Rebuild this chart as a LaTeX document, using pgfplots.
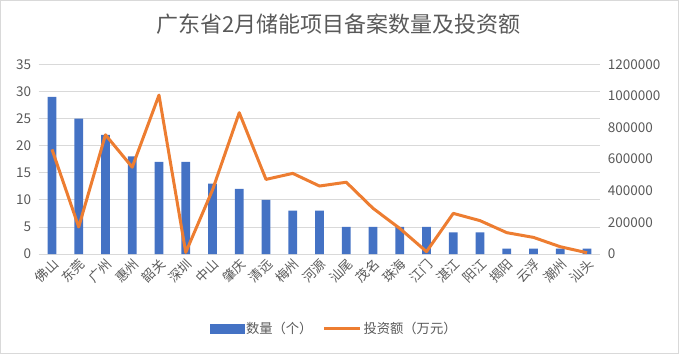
\documentclass[border=0pt]{standalone}
\usepackage{pgfplots}
\pgfplotsset{compat=1.18}
\usepackage{fontspec}
\setmainfont{Noto Sans CJK SC}
\definecolor{barblue}{HTML}{4472C4}
\definecolor{lineorange}{HTML}{ED7D31}
\definecolor{txtgray}{HTML}{595959}
\definecolor{gridgray}{HTML}{D9D9D9}
\begin{document}
\begin{tikzpicture}
\draw[gridgray, line width=1pt] (0.5pt,0.5pt) rectangle (678.5pt,353.5pt);
\node[text=txtgray, font=\fontsize{22}{26}\selectfont] at (338.5pt,330pt) {广东省2月储能项目备案数量及投资额};
\begin{axis}[
  at={(38.6pt,100pt)}, anchor=south west,
  scale only axis, width=561.8pt, height=189.7pt,
  xmin=-0.5, xmax=20.5, ymin=0, ymax=35,
  xtick={0,...,20},
  xticklabels={佛山,东莞,广州,惠州,韶关,深圳,中山,肇庆,清远,梅州,河源,汕尾,茂名,珠海,江门,湛江,阳江,揭阳,云浮,潮州,汕头},
  x tick label style={rotate=45, anchor=east, font=\fontsize{13}{15}\selectfont, text=txtgray, yshift=-8pt, xshift=1pt},
  ytick={0,5,...,35},
  y tick label style={font=\fontsize{13.5}{15}\selectfont, text=txtgray, xshift=-4pt},
  /pgf/number format/assume math mode=true,
  ymajorgrids, grid style={gridgray, line width=0.8pt},
  axis line style={draw=none},
  tick style={draw=none},
  legend style={at={(axis description cs:0.526,-0.395)}, anchor=center, draw=none, fill=none,
    legend columns=2, font=\fontsize{13.3}{15}\selectfont, text=txtgray,
    /tikz/every even column/.append style={column sep=8pt}},
  legend cell align=left,
]
\addlegendimage{legend image code/.code={\fill[barblue] (0pt,-4.5pt) rectangle (34pt,4.5pt);}}
\addlegendentry{数量（个）}
\addlegendimage{legend image code/.code={\draw[lineorange, line width=3pt] (0pt,0pt) -- (36pt,0pt);}}
\addlegendentry{投资额（万元）}
\addplot[ybar, bar width=8.7pt, fill=barblue, draw=none, forget plot] coordinates {
(0,29) (1,25) (2,22) (3,18) (4,17) (5,17) (6,13) (7,12) (8,10) (9,8) (10,8)
(11,5) (12,5) (13,5) (14,5) (15,4) (16,4) (17,1) (18,1) (19,1) (20,1)};
\end{axis}
\begin{axis}[
  at={(38.6pt,100pt)}, anchor=south west,
  scale only axis, width=561.8pt, height=189.7pt,
  xmin=-0.5, xmax=20.5, ymin=0, ymax=1200000,
  axis x line=none,
  axis y line*=right,
  y axis line style={draw=none},
  ytick={0,200000,...,1200000},
  scaled y ticks=false,
  yticklabel style={font=\fontsize{13.5}{15}\selectfont, text=txtgray, xshift=4pt, /pgf/number format/fixed, /pgf/number format/1000 sep={}},
  /pgf/number format/assume math mode=true,
  tick style={draw=none},
]
\addplot[lineorange, line width=3pt, line join=round, no marks] coordinates {
(0,662000) (1,171000) (2,754000) (3,549000) (4,1005000) (5,10000) (6,405000)
(7,894000) (8,472000) (9,510000) (10,430000) (11,454000) (12,289000) (13,162000)
(14,15000) (15,257000) (16,211000) (17,135000) (18,105000) (19,46000) (20,8000)};
\end{axis}
\end{tikzpicture}
\end{document}
